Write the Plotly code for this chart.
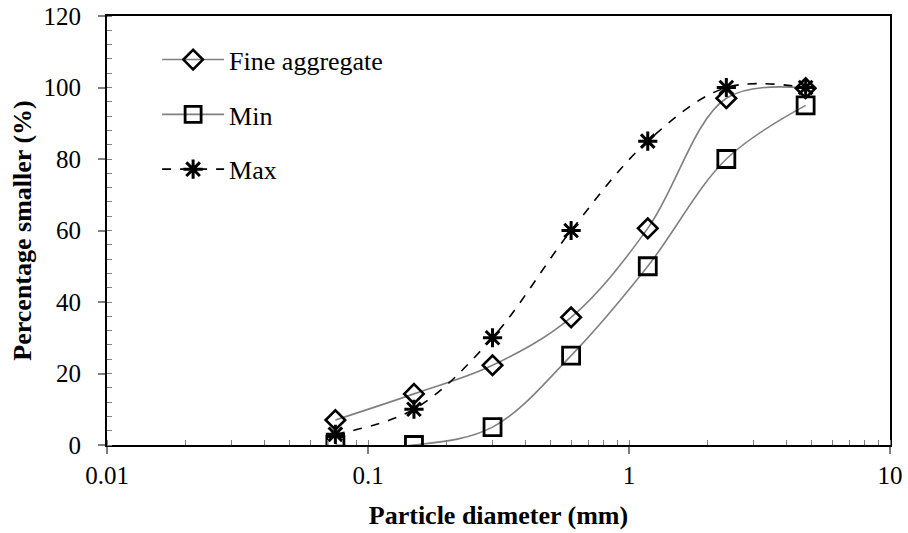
import plotly.graph_objects as go

# Data
sieve_mm = [0.075, 0.15, 0.3, 0.6, 1.18, 2.36, 4.75]
fine_aggregate = [7, 14.3, 22.3, 35.7, 60.6, 97, 99.8]
min_limit = [0, 0, 5, 25, 50, 80, 95]
max_limit = [3, 10, 30, 60, 85, 100, 100]

x_tickvals = [0.01, 0.1, 1, 10]
x_ticktext = ["0.01", "0.1", "1", "10"]

FONT = "Liberation Serif"
GRAY = "#808080"

fig = go.Figure()
fig.add_trace(go.Scatter(
    x=sieve_mm, y=fine_aggregate, name="Fine aggregate", legendgroup="a",
    mode="lines+markers", line=dict(color=GRAY, width=1.6, shape="spline", smoothing=1),
    marker=dict(symbol="diamond-open", size=15, color="black", line=dict(width=2.6, color="black"))))
fig.add_trace(go.Scatter(
    x=sieve_mm, y=min_limit, name="Min", legendgroup="b",
    mode="lines+markers", line=dict(color=GRAY, width=1.6, shape="spline", smoothing=1),
    marker=dict(symbol="square-open", size=17, color="black", line=dict(width=2.8, color="black"))))
fig.add_trace(go.Scatter(
    x=sieve_mm, y=max_limit, name="Max", legendgroup="c",
    mode="lines+markers", line=dict(color="black", width=1.6, dash="dash", shape="spline", smoothing=1),
    marker=dict(symbol="asterisk-open", size=16, color="black", line=dict(width=3, color="black"))))

fig.update_layout(
    width=908, height=533,
    margin=dict(l=107, r=18, t=16, b=88),
    paper_bgcolor="white", plot_bgcolor="white",
    font=dict(family=FONT, size=25, color="black"),
    legend=dict(x=0.064, y=0.953, xanchor="left", yanchor="top",
                bgcolor="rgba(0,0,0,0)", font=dict(family=FONT, size=26),
                traceorder="grouped", tracegroupgap=18, itemwidth=62),
    xaxis=dict(
        type="log", range=[-2, 1], automargin=False,
        tickmode="array", tickvals=x_tickvals, ticktext=x_ticktext,
        ticks="outside", ticklen=7, tickwidth=1.5, tickcolor=GRAY,
        showline=True, linecolor="black", linewidth=2, mirror=True,
        showgrid=False, zeroline=False,
        tickfont=dict(family=FONT, size=25),
        minor=dict(ticks="inside", ticklen=5, tickwidth=1.2, tickcolor=GRAY, dtick="D1", showgrid=False),
        title=dict(text="<b>Particle diameter (mm)</b>", font=dict(family=FONT, size=26), standoff=18),
    ),
    yaxis=dict(
        range=[0, 120], dtick=20, automargin=False,
        ticks="outside", ticklen=7, tickwidth=1.5, tickcolor=GRAY, ticklabelstandoff=12,
        showline=True, linecolor="black", linewidth=2, mirror=True,
        showgrid=False, zeroline=False,
        tickfont=dict(family=FONT, size=25),
        minor=dict(ticks="inside", ticklen=5, tickwidth=1.2, tickcolor=GRAY, dtick=4, showgrid=False),
        title=dict(text="<b>Percentage smaller (%)</b>", font=dict(family=FONT, size=26), standoff=4),
    ),
)

fig.write_html("out.html")
